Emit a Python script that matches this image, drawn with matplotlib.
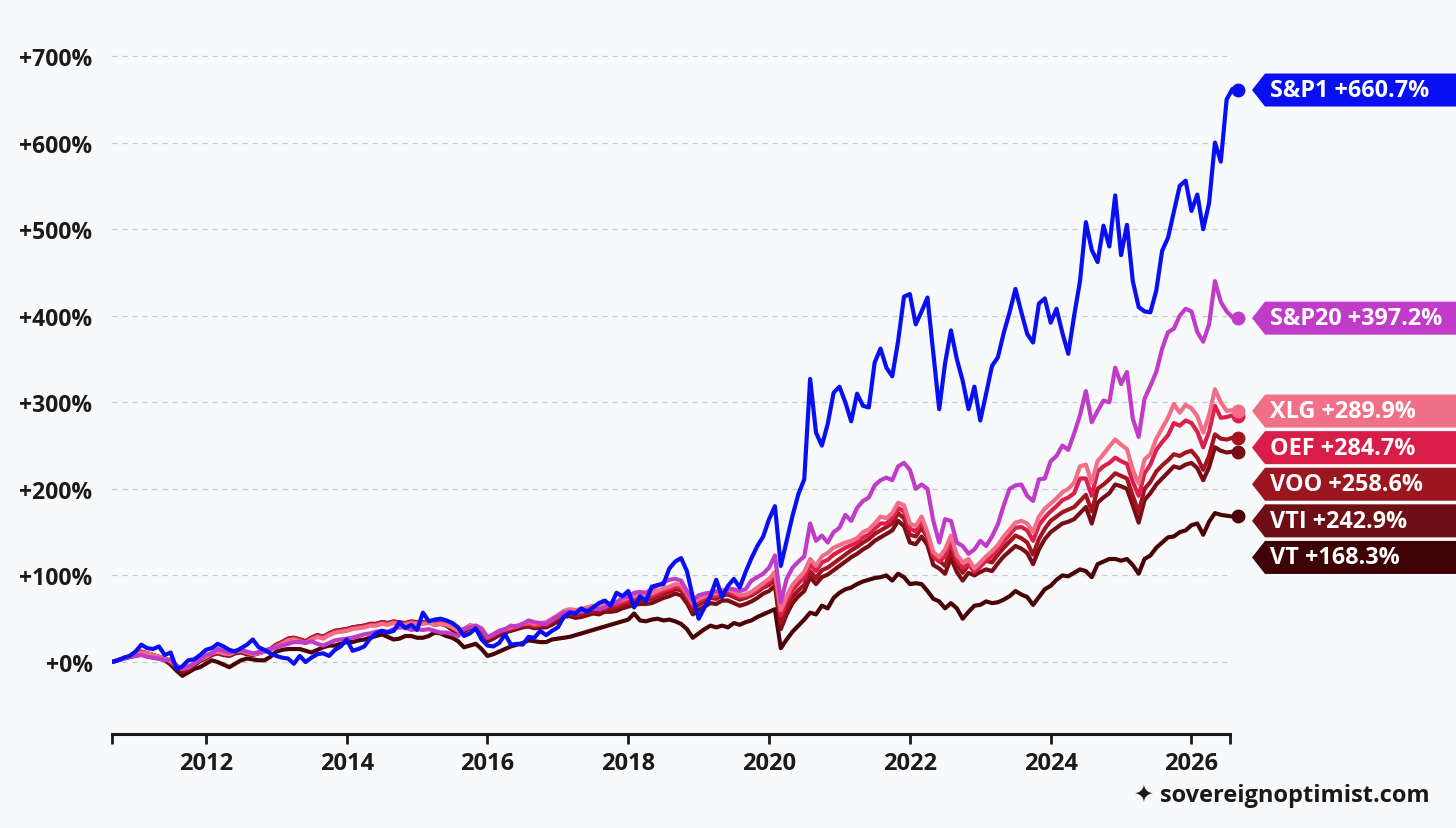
import numpy as np
import pandas as pd
import matplotlib
matplotlib.use('Agg')
import matplotlib.pyplot as plt
from matplotlib.patches import Polygon

# monthly total return (%), Sep 2010 .. Sep 2026
months = pd.date_range('2010-09-01', periods=193, freq='MS')
years = np.asarray(months.year + (months.month - 1) / 12, dtype=float)

sp1 = [0, 2, 5, 7, 12, 20, 16, 15, 18, 8,
       11, -8, -5, 2, 3, 8, 14, 16, 21, 18,
       14, 12, 16, 20, 26, 17, 14, 10, 7, 5,
       4, -2, 7, 0, 5, 9, 10, 7, 14, 18,
       26, 13, 15, 18, 27, 33, 36, 34, 36, 46,
       39, 43, 37, 57, 47, 49, 50, 48, 45, 40,
       30, 33, 39, 26, 19, 18, 22, 32, 20, 21,
       20, 29, 28, 36, 31, 36, 40, 52, 57, 56,
       62, 58, 63, 68, 71, 65, 80, 76, 82, 63,
       76, 70, 87, 89, 90, 108, 116, 120, 105, 75,
       50, 63, 76, 95, 75, 88, 96, 86, 104, 120,
       134, 145, 165, 180, 111, 140, 169, 194, 211, 327,
       265, 250, 275, 311, 318, 300, 278, 310, 296, 294,
       346, 362, 340, 330, 371, 422, 425, 390, 405, 421,
       356, 292, 345, 383, 350, 325, 292, 318, 279, 310,
       342, 352, 380, 404, 431, 404, 379, 369, 414, 420,
       392, 408, 380, 356, 400, 440, 508, 476, 462, 504,
       480, 539, 470, 505, 440, 410, 405, 404, 429, 475,
       490, 520, 550, 556, 521, 540, 500, 530, 600, 578,
       650, 662, 660.7]

sp20 = [0, 2, 4, 6, 7, 8, 6, 5, 4, 2,
        3, -4, -8, -5, -2, 3, 8, 10, 15, 13,
        11, 13, 14, 12, 10, 11, 13, 15, 17, 19,
        21, 23, 23, 22, 24, 21, 19, 22, 25, 26,
        27, 28, 30, 32, 33, 35, 36, 35, 38, 40,
        40, 37, 38, 37, 38, 36, 34, 34, 32, 30,
        38, 40, 42, 38, 28, 32, 36, 38, 42, 41,
        44, 48, 46, 45, 44, 49, 53, 57, 58, 57,
        58, 60, 62, 61, 63, 67, 69, 74, 76, 80,
        81, 80, 84, 88, 92, 95, 96, 94, 82, 71,
        77, 79, 80, 82, 80, 85, 84, 82, 84, 94,
        98, 102, 109, 123, 69, 96, 109, 116, 122, 160,
        140, 146, 138, 150, 155, 170, 163, 178, 186, 190,
        204, 210, 213, 210, 226, 230, 222, 200, 205, 200,
        163, 138, 165, 163, 138, 134, 125, 130, 140, 134,
        145, 159, 181, 200, 204, 205, 192, 186, 211, 212,
        232, 238, 250, 245, 264, 285, 313, 277, 290, 302,
        300, 340, 321, 335, 281, 260, 304, 319, 335, 362,
        381, 385, 400, 408, 405, 381, 370, 390, 440, 416,
        405, 398, 397.2]

xlg = [0, 2, 4, 6, 8, 11, 10, 8, 6, 4,
       1, -5, -8, -6, -2, 3, 6, 10, 12, 10,
       9, 12, 13, 11, 9, 10, 12, 14, 18, 21,
       25, 26, 24, 22, 26, 29, 27, 31, 34, 35,
       36, 38, 39, 40, 42, 42, 44, 43, 45, 44,
       43, 45, 44, 44, 45, 43, 44, 43, 40, 36,
       38, 42, 42, 39, 29, 32, 36, 38, 40, 42,
       44, 46, 44, 45, 46, 50, 54, 59, 61, 60,
       61, 63, 65, 64, 67, 68, 69, 72, 74, 76,
       77, 78, 79, 82, 85, 87, 90, 89, 80, 68,
       73, 76, 80, 79, 83, 84, 81, 77, 78, 81,
       86, 91, 96, 104, 60, 76, 89, 97, 104, 119,
       111, 122, 126, 132, 135, 138, 140, 143, 150, 153,
       160, 168, 166, 172, 184, 181, 160, 157, 168, 150,
       127, 121, 130, 146, 124, 115, 119, 108, 115, 122,
       128, 135, 145, 153, 161, 163, 160, 150, 168, 177,
       183, 189, 196, 200, 207, 226, 228, 207, 232, 240,
       249, 257, 251, 246, 222, 206, 234, 240, 258, 270,
       282, 298, 288, 297, 293, 284, 265, 285, 315, 300,
       290, 291, 289.9]

oef = [0, 2, 4, 6, 8, 12, 10, 8, 6, 4,
       1, -5, -8, -6, -2, 3, 6, 10, 12, 10,
       9, 12, 13, 11, 9, 11, 13, 15, 19, 22,
       26, 27, 25, 23, 27, 30, 28, 32, 35, 36,
       37, 39, 40, 41, 43, 43, 45, 44, 46, 45,
       44, 46, 45, 45, 46, 44, 45, 43, 40, 36,
       38, 42, 41, 38, 28, 31, 35, 37, 39, 41,
       43, 44, 42, 43, 44, 48, 52, 57, 58, 57,
       58, 60, 62, 61, 64, 65, 66, 69, 71, 73,
       74, 75, 76, 79, 82, 84, 87, 86, 77, 65,
       70, 74, 77, 76, 80, 81, 78, 75, 76, 79,
       83, 88, 92, 100, 54, 70, 83, 91, 97, 113,
       105, 115, 118, 124, 128, 132, 135, 138, 144, 147,
       154, 160, 160, 166, 178, 174, 154, 151, 162, 146,
       122, 116, 122, 138, 118, 109, 113, 104, 110, 117,
       122, 130, 139, 147, 155, 156, 152, 140, 158, 167,
       174, 180, 187, 190, 195, 212, 212, 192, 220, 226,
       230, 236, 232, 229, 208, 192, 218, 228, 245, 254,
       262, 276, 273, 279, 276, 266, 248, 266, 296, 282,
       283, 285, 284.7]

voo = [0, 2, 4, 6, 8, 12, 10, 8, 6, 4,
       0, -6, -10, -8, -3, 2, 5, 9, 11, 9,
       8, 11, 12, 10, 9, 11, 13, 15, 20, 23,
       27, 28, 26, 24, 28, 31, 29, 33, 36, 37,
       38, 40, 41, 42, 44, 44, 46, 45, 47, 46,
       45, 47, 46, 46, 47, 45, 46, 44, 40, 36,
       38, 42, 41, 38, 27, 30, 34, 36, 38, 40,
       42, 43, 41, 42, 42, 46, 50, 55, 56, 54,
       55, 57, 59, 58, 61, 62, 63, 66, 68, 70,
       71, 72, 73, 76, 79, 81, 84, 83, 74, 61,
       66, 70, 74, 73, 77, 78, 75, 72, 74, 77,
       81, 86, 89, 95, 45, 62, 75, 83, 89, 105,
       97, 106, 109, 114, 119, 124, 129, 133, 138, 142,
       148, 152, 156, 160, 172, 166, 147, 145, 155, 144,
       121, 117, 111, 129, 113, 103, 112, 109, 113, 117,
       115, 124, 132, 139, 146, 143, 138, 124, 142, 154,
       163, 168, 173, 176, 179, 186, 193, 174, 200, 205,
       211, 218, 215, 212, 192, 173, 200, 208, 220, 227,
       233, 240, 238, 242, 244, 236, 222, 238, 263, 258,
       257, 259, 258.6]

vti = [0, 2, 4, 6, 8, 12, 10, 8, 6, 3,
       -2, -8, -12, -9, -4, 1, 4, 8, 10, 8,
       7, 10, 11, 9, 8, 10, 12, 15, 20, 23,
       27, 28, 26, 24, 28, 31, 29, 33, 36, 37,
       38, 40, 41, 42, 44, 44, 46, 45, 46, 45,
       44, 46, 45, 45, 46, 43, 44, 42, 37, 33,
       35, 39, 38, 35, 24, 27, 31, 34, 36, 38,
       40, 41, 39, 40, 40, 43, 47, 52, 53, 51,
       52, 54, 56, 55, 58, 58, 59, 62, 64, 66,
       67, 67, 68, 71, 74, 76, 79, 77, 68, 55,
       60, 64, 68, 67, 71, 71, 68, 65, 67, 70,
       74, 79, 82, 88, 38, 55, 68, 76, 82, 98,
       90, 98, 101, 106, 111, 116, 121, 125, 130, 134,
       140, 144, 148, 152, 163, 157, 138, 136, 145, 135,
       112, 108, 102, 120, 104, 94, 103, 100, 104, 107,
       105, 114, 122, 128, 134, 131, 126, 113, 130, 142,
       150, 155, 160, 162, 165, 172, 179, 160, 184, 190,
       195, 205, 203, 200, 181, 161, 187, 195, 205, 212,
       219, 226, 224, 228, 230, 224, 210, 225, 248, 244,
       242, 243, 242.9]

vt = [0, 2, 4, 6, 7, 9, 7, 5, 4, 2,
      -3, -10, -16, -12, -8, -6, -2, 2, 0, -3,
      -6, -2, 2, 4, 3, 2, 2, 6, 12, 14,
      15, 15, 15, 13, 11, 14, 17, 19, 19, 21,
      23, 23, 25, 26, 28, 30, 32, 29, 26, 27,
      30, 30, 28, 28, 30, 34, 33, 30, 28, 24,
      17, 19, 21, 15, 7, 9, 12, 15, 18, 20,
      22, 25, 24, 23, 23, 26, 27, 28, 29, 31,
      33, 35, 37, 39, 41, 43, 45, 47, 49, 56,
      48, 47, 49, 50, 48, 49, 47, 44, 38, 28,
      33, 38, 42, 40, 42, 40, 45, 43, 46, 48,
      52, 55, 58, 61, 16, 26, 35, 42, 49, 57,
      55, 65, 62, 74, 80, 84, 86, 90, 93, 95,
      97, 98, 100, 94, 102, 98, 90, 91, 90, 82,
      73, 70, 62, 68, 62, 50, 58, 65, 66, 70,
      68, 69, 72, 76, 82, 78, 75, 66, 75, 84,
      88, 95, 100, 99, 103, 107, 105, 98, 113, 116,
      119, 119, 117, 119, 112, 102, 119, 123, 132, 138,
      144, 145, 150, 152, 158, 160, 147, 162, 172, 170,
      169, 168, 168.3]

names = ['VT', 'VTI', 'VOO', 'OEF', 'XLG', 'S&P20', 'S&P1']
values = [vt, vti, voo, oef, xlg, sp20, sp1]
colors = ['#4a0307', '#790d15', '#a2141e', '#dc1f4b', '#f06e86', '#c03cc8', '#0810f2']
label_colors = ['#3e0206', '#6e0f16', '#9c1620', '#d81e48', '#f07088', '#c03cc8', '#0810f2']
yticks = [0, 100, 200, 300, 400, 500, 600, 700]
xticks = [2012, 2014, 2016, 2018, 2020, 2022, 2024, 2026]

BG = '#f8f9fb'
INK = '#1a1a1a'
W, H = 1456, 829

plt.rcParams['font.family'] = ['Open Sans', 'DejaVu Sans']

fig = plt.figure(figsize=(W / 100, H / 100), dpi=100, facecolor=BG)
# axes box in pixels: x 112..1240, y 40..735
ax = fig.add_axes([112 / W, 1 - 735 / H, 1128 / W, 695 / H])
ax.set_facecolor(BG)
ax.set_xlim(years[0], years[0] + 1128 / 70.4)
ax.set_ylim(-72 / 0.8657, 623 / 0.8657)

x_end = 2026.55
for v in yticks:
    ax.plot([years[0], x_end - 0.03], [v, v], ls=(0, (4, 4)), color='#c6c8cd',
            lw=0.9, zorder=0)

for i, (name, vals, c) in enumerate(zip(names, values, colors)):
    ax.plot(years, vals, color=c, lw=3.0, solid_joinstyle='round',
            solid_capstyle='round', zorder=2 + i)
    ax.plot(years[-1], vals[-1], 'o', ms=9, color=c, clip_on=False, zorder=2 + i)

for s in ['top', 'right', 'left']:
    ax.spines[s].set_visible(False)
ax.spines['bottom'].set_linewidth(2.2)
ax.spines['bottom'].set_color(INK)
ax.spines['bottom'].set_bounds(years[0], x_end)

ax.set_xticks(xticks)
ax.set_xticklabels([str(x) for x in xticks], fontsize=17, fontweight='bold', color=INK)
ax.set_xticks([years[0], x_end], minor=True)
ax.tick_params(axis='x', which='both', length=7, width=2, color=INK, pad=5)

ax.set_yticks(yticks)
ax.set_yticklabels([f'+{v}%' for v in yticks], fontsize=16.5, fontweight='bold', color=INK)
ax.tick_params(axis='y', length=0, pad=14)

# end labels, stacked downward so they do not overlap
order = sorted(range(len(names)), key=lambda k: -values[k][-1])
prev = None
for k in order:
    last = values[k][-1]
    _, yd = ax.transData.transform((years[-1], last))
    if prev is not None and prev - yd < 36.6:
        yd = prev - 36.6
    prev = yd
    pts = [(1252, yd), (1265, yd + 16.5), (W + 5, yd + 16.5), (W + 5, yd - 16.5), (1265, yd - 16.5)]
    fig.add_artist(Polygon([(px / W, py / H) for px, py in pts], closed=True,
                           fc=label_colors[k], ec='none', transform=fig.transFigure))
    fig.text(1270 / W, yd / H, f'{names[k]} +{last:.1f}%', color='white',
             fontsize=16.8, fontweight='bold', va='center', ha='left')

fig.text(1430 / W, 1 - 796 / H, '\u2726 sovereignoptimist.com', ha='right', va='center',
         fontsize=17, fontweight='bold', color=INK)

fig.savefig('out.png', dpi=100, facecolor=BG)
